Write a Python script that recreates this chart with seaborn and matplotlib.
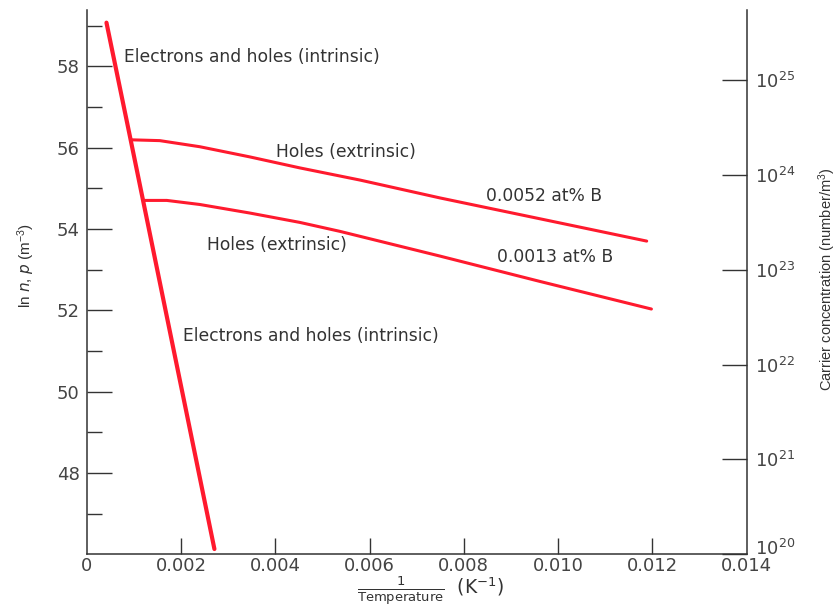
import numpy as np
import pandas as pd
import matplotlib
matplotlib.use("Agg")
import matplotlib.pyplot as plt
import matplotlib.transforms as mtransforms
import seaborn as sns

# values
intr_x = [0.00042, 0.00094, 0.00271]
intr_y = [59.07, 56.15, 46.13]

hi_x = [0.00094, 0.00155, 0.0024, 0.00346, 0.00452, 0.0058, 0.0075, 0.00961, 0.01188]
hi_y = [56.19, 56.17, 56.02, 55.77, 55.50, 55.20, 54.76, 54.25, 53.70]

lo_x = [0.0012, 0.0017, 0.0024, 0.00346, 0.00452, 0.00537, 0.0075, 0.00961, 0.01198]
lo_y = [54.70, 54.70, 54.60, 54.39, 54.16, 53.94, 53.33, 52.71, 52.03]

x_ticks = [0, 0.002, 0.004, 0.006, 0.008, 0.010, 0.012, 0.014]
x_labels = ["0", "0.002", "0.004", "0.006", "0.008", "0.010", "0.012", "0.014"]
y_ticks = [48, 50, 52, 54, 56, 58]
right_exp = [20, 21, 22, 23, 24, 25]

sns.set_style("white")
plt.rcParams["font.family"] = ["DejaVu Sans"]
plt.rcParams["mathtext.default"] = "regular"

red = "#ff1a2e"
dark = "#333333"
narrow = ["Liberation Sans Narrow", "Liberation Sans"]

fig = plt.figure(figsize=(8.39, 6.09), dpi=100)
ax = fig.add_axes([0.1033, 0.0898, 0.7866, 0.8937])

df_i = pd.DataFrame({"x": intr_x, "y": intr_y})
df_h = pd.DataFrame({"x": hi_x, "y": hi_y})
df_l = pd.DataFrame({"x": lo_x, "y": lo_y})
sns.lineplot(data=df_i, x="x", y="y", ax=ax, color=red, lw=3.0, sort=False)
sns.lineplot(data=df_h, x="x", y="y", ax=ax, color=red, lw=2.2, sort=False)
sns.lineplot(data=df_l, x="x", y="y", ax=ax, color=red, lw=2.2, sort=False)

ax.set_xlim(0, 0.014)
ax.set_ylim(46.0, 59.38)
ax.set_xticks(x_ticks)
ax.set_xticklabels(x_labels)
ax.set_xticks(np.arange(0.001, 0.014, 0.002), minor=True)
ax.set_yticks(y_ticks)
ax.set_yticks(np.arange(47, 60, 2), minor=True)

ax.tick_params(axis="y", which="major", direction="in", length=18, width=1.0,
               color=dark, labelsize=13, labelcolor="#444444", pad=5)
ax.tick_params(axis="y", which="minor", direction="in", length=11, width=1.0, color=dark)
ax.tick_params(axis="x", which="major", direction="in", length=11.5, width=1.0,
               color=dark, labelsize=13, labelcolor="#444444", pad=2)
ax.tick_params(axis="x", which="minor", direction="in", length=7, width=1.0, color=dark)
ax.tick_params(left=True, bottom=True, which="both")
# end ticks sit on the spines in the reference, so hide their marks
xt = ax.xaxis.get_major_ticks()
xt[0].tick1line.set_visible(False)
xt[-1].tick1line.set_visible(False)

ax.spines["top"].set_visible(False)
ax.spines["right"].set_visible(False)
for s in ["left", "bottom"]:
    ax.spines[s].set_color(dark)
    ax.spines[s].set_linewidth(1.1)

ax.set_xlabel("")
ax.set_ylabel(r"ln $\mathit{n}$, $\mathit{p}$ (m$^{-3}$)", fontsize=11,
              family=narrow, color=dark)
ax.yaxis.set_label_coords(-0.075, 0.53)

# right axis: carrier concentration on a log scale
ax2 = ax.twinx()
ax2.set_yscale("log")
ax2.set_ylim(1e20, 10 ** 25.735)
ax2.set_yticks([10.0 ** e for e in right_exp])
ax2.set_yticklabels([rf"$10^{{{e}}}$" for e in right_exp])
ax2.minorticks_off()
ax2.tick_params(axis="y", direction="in", length=18, width=1.0, color=dark,
                labelsize=13, labelcolor="#444444", pad=6)
# lift the bottom label a little, as in the reference
lab0 = ax2.get_yticklabels()[0]
lab0.set_transform(lab0.get_transform() +
                   mtransforms.ScaledTranslation(0, 5 / 72, fig.dpi_scale_trans))
ax2.spines["top"].set_visible(False)
ax2.spines["left"].set_visible(False)
ax2.spines["bottom"].set_visible(False)
ax2.spines["right"].set_color(dark)
ax2.spines["right"].set_linewidth(1.1)
ax2.set_ylabel("Carrier concentration (number/m$^3$)", fontsize=10.5,
               family=narrow, color=dark)
ax2.yaxis.set_label_coords(1.105, 0.505)

# curve annotations
txt = dict(fontsize=12.3, color=dark, ha="left", va="center")
ax.text(0.00079, 58.22, "Electrons and holes (intrinsic)", **txt)
ax.text(0.00401, 55.90, "Holes (extrinsic)", **txt)
ax.text(0.00848, 54.82, "0.0052 at% B", **txt)
ax.text(0.002545, 53.60, "Holes (extrinsic)", **txt)
ax.text(0.00871, 53.32, "0.0013 at% B", **txt)
ax.text(0.00205, 51.37, "Electrons and holes (intrinsic)", **txt)

fig.text(0.513, 0.03, r"$\frac{1}{\mathrm{Temperature}}$  (K$^{-1}$)",
         fontsize=13.5, color=dark, ha="center", va="center")

fig.savefig("out.png", dpi=100)
